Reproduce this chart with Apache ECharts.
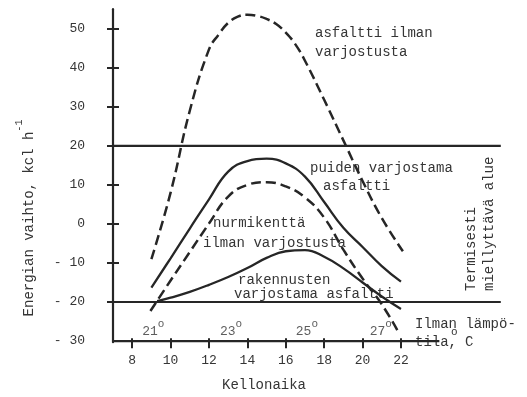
<!DOCTYPE html>
<html>
<head>
<meta charset="utf-8">
<script src="https://cdn.jsdelivr.net/npm/echarts@6/dist/echarts.min.js"></script>
<style>
  html, body { margin: 0; padding: 0; background: #ffffff; }
  #chart { width: 527px; height: 397px; }
</style>
</head>
<body>
<div id="chart"></div>
<script>
// Energy exchange (kcal/h) over the day for four surface types
const asphaltOpen = [[9, -9], [10, 8], [11, 29], [12, 44.7], [12.5, 48.5], [13, 51.5], [13.5, 53.1], [14, 53.6], [14.5, 53.3], [15, 52.5], [15.5, 51.2], [16, 49], [16.5, 46], [17, 41.8], [18, 31.8], [19, 21.4], [20, 11], [21, 1.5], [22.1, -7]];
const asphaltTreeShade = [[9, -16.3], [10, -8.8], [11, -1.2], [12, 6.3], [13, 13.4], [14, 16.1], [15, 16.7], [16, 15.5], [17, 12.1], [18, 5.6], [19, -1], [20, -5.9], [21, -10.8], [22, -14.8]];
const lawnOpen = [[8.95, -22.3], [10, -14.5], [11, -7.2], [12, 0.1], [13, 7], [14, 10], [15, 10.7], [16, 9.6], [17, 6.8], [18, 1.6], [19, -6.6], [20, -14], [21, -20.6], [21.9, -28]];
const asphaltBuildingShade = [[9.3, -19.8], [10, -18.9], [11, -17.4], [12, -15.6], [13, -13.6], [14, -11.3], [15, -8.7], [16, -7], [17, -6.7], [18, -8.4], [19, -11.4], [20, -15], [21, -18.6], [22, -21.8]];

// Thermally comfortable band limits
const comfortLimits = [20, -20];

// Air temperature along the day
const tempHours = [9.1, 13.15, 17.1, 20.95];
const tempLabels = ['21', '23', '25', '27'];

// Axis ticks and labels
const xTicks = [8, 10, 12, 14, 16, 18, 20, 22];
const yTicks = [-20, -10, 0, 10, 20, 30, 40, 50];
const yLabels = [-30, -20, -10, 0, 10, 20, 30, 40, 50];

const X_MIN = 7, X_MAX = 27.2, X_AXIS_END = 24;
const Y_MIN = -30.3, Y_MAX = 55, Y_BASE = -30;

const INK = '#262626';
const TEXT = '#353535';
const MONO = '"Liberation Mono", "DejaVu Sans Mono", monospace';

const chart = echarts.init(document.getElementById('chart'), null, { renderer: 'canvas' });

function curve(name, data, dashed) {
  return {
    name, type: 'line', data, smooth: 0.45, showSymbol: false, silent: true,
    lineStyle: { color: INK, width: dashed ? 2.5 : 2.3, type: dashed ? [10, 5] : 'solid', cap: 'butt' }
  };
}

function straight(data, width) {
  return {
    type: 'line', data, showSymbol: false, silent: true, clip: false,
    lineStyle: { color: INK, width: width }
  };
}

function label(text, x, y, extra) {
  return Object.assign({
    type: 'text', x, y, silent: true,
    style: Object.assign({ text, font: '14px ' + MONO, fill: TEXT, align: 'left', verticalAlign: 'middle' }, (extra && extra.style) || {})
  }, extra && extra.rotation !== undefined ? { rotation: extra.rotation } : {});
}

const option = {
  backgroundColor: '#ffffff',
  animation: false,
  grid: { left: 113, top: 9.2, right: 26.2, bottom: 54.8, outerBoundsMode: 'none', containLabel: false },
  xAxis: [
    {
      type: 'value', min: X_MIN, max: X_MAX, position: 'bottom',
      axisLine: { show: false, onZero: false },
      splitLine: { show: false },
      axisTick: { show: true, customValues: xTicks, length: 6, lineStyle: { color: INK, width: 2 } },
      axisLabel: { customValues: xTicks, margin: 12, color: TEXT, fontFamily: MONO, fontSize: 13 }
    },
    {
      type: 'value', min: X_MIN, max: X_MAX, position: 'bottom',
      axisLine: { show: false, onZero: false },
      splitLine: { show: false },
      axisTick: { show: true, inside: true, customValues: xTicks, length: 4, lineStyle: { color: INK, width: 2 } },
      axisLabel: { show: false }
    }
  ],
  yAxis: [
    {
      type: 'value', min: Y_MIN, max: Y_MAX,
      axisLine: { show: true, onZero: false, lineStyle: { color: INK, width: 2.2 } },
      splitLine: { show: false },
      axisTick: { show: true, customValues: yTicks, length: 6, lineStyle: { color: INK, width: 2 } },
      axisLabel: {
        customValues: yLabels, margin: 28, color: TEXT, fontFamily: MONO, fontSize: 13,
        padding: [0, 0, 8, 0],
        formatter: v => (v < 0 ? '- ' + (-v) : String(v))
      }
    },
    {
      type: 'value', min: Y_MIN, max: Y_MAX, position: 'left',
      axisLine: { show: false, onZero: false },
      splitLine: { show: false },
      axisTick: { show: true, inside: true, customValues: yTicks, length: 6, lineStyle: { color: INK, width: 2 } },
      axisLabel: { show: false }
    }
  ],
  series: [
    curve('asfaltti ilman varjostusta', asphaltOpen, true),
    curve('puiden varjostama asfaltti', asphaltTreeShade, false),
    curve('nurmikenttä ilman varjostusta', lawnOpen, true),
    curve('rakennusten varjostama asfaltti', asphaltBuildingShade, false),
    straight([[X_MIN, comfortLimits[0]], [X_MAX, comfortLimits[0]]], 2.2),
    straight([[X_MIN, comfortLimits[1]], [X_MAX, comfortLimits[1]]], 2.2),
    // time axis line, ending under the temperature caption
    straight([[X_MIN, Y_BASE], [X_AXIS_END, Y_BASE]], 2.2),
    {
      type: 'scatter', silent: true, symbolSize: 0,
      data: tempHours.map((h, i) => ({ value: [h, -26.7], name: tempLabels[i] })),
      label: {
        show: true, position: 'inside',
        formatter: '{n|{b}}{d|o}',
        rich: {
          n: { fontFamily: MONO, fontSize: 13, color: TEXT, verticalAlign: 'bottom', lineHeight: 20 },
          d: { fontFamily: MONO, fontSize: 11, color: TEXT, verticalAlign: 'top', lineHeight: 20 }
        }
      }
    }
  ],
  graphic: [
    label('asfaltti ilman', 315, 33),
    label('varjostusta', 315, 52),
    label('puiden varjostama', 310, 168),
    label('asfaltti', 323, 186),
    label('nurmikenttä', 213, 223),
    label('ilman varjostusta', 203, 243),
    label('rakennusten', 238, 280),
    label('varjostama asfaltti', 234, 294),
    label('Ilman lämpö-', 415, 324),
    label('tila,', 415, 342),
    label('o', 451, 332, { style: { font: '11px ' + MONO } }),
    label('C', 465, 342),
    label('Kellonaika', 264, 385, { style: { align: 'center' } }),
    label('Termisesti', 471, 291, { rotation: Math.PI / 2 }),
    label('miellyttävä alue', 489, 291, { rotation: Math.PI / 2 }),
    {
      type: 'text', x: 25, y: 218, rotation: Math.PI / 2, silent: true,
      style: {
        text: '{a|Energian vaihto, kcl h}{s|-1}',
        align: 'center', verticalAlign: 'middle',
        rich: {
          a: { fontFamily: MONO, fontSize: 14, fill: TEXT, verticalAlign: 'bottom', lineHeight: 22 },
          s: { fontFamily: MONO, fontSize: 10, fill: TEXT, verticalAlign: 'top', lineHeight: 22 }
        }
      }
    }
  ]
};

chart.setOption(option);
</script>
</body>
</html>
